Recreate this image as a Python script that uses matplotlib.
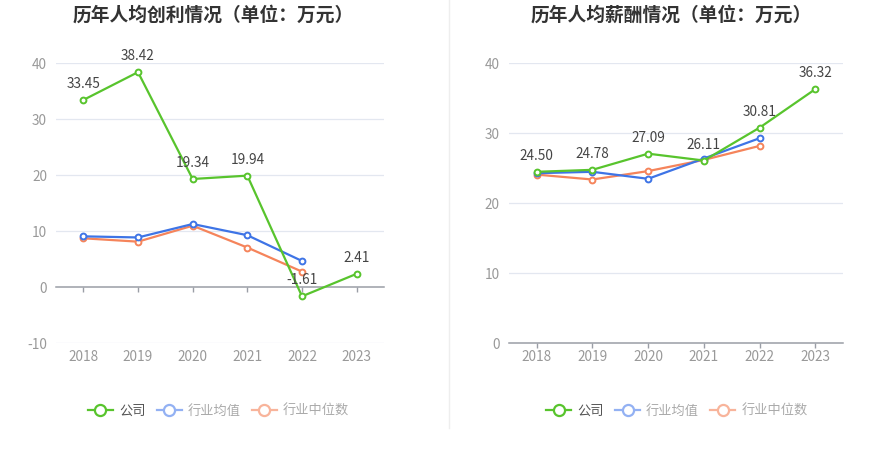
import matplotlib
matplotlib.use("Agg")
import matplotlib.pyplot as plt
from matplotlib.lines import Line2D

plt.rcParams['font.family'] = ['Noto Sans CJK SC', 'DejaVu Sans']
plt.rcParams['axes.unicode_minus'] = False

years = ['2018', '2019', '2020', '2021', '2022', '2023']

# 历年人均创利
profit_company = [33.45, 38.42, 19.34, 19.94, -1.61, 2.41]
profit_avg = [9.1, 8.9, 11.3, 9.3, 4.7]
profit_median = [8.75, 8.15, 11.0, 7.1, 2.8]

# 历年人均薪酬
salary_company = [24.50, 24.78, 27.09, 26.11, 30.81, 36.32]
salary_avg = [24.3, 24.5, 23.5, 26.4, 29.3]
salary_median = [24.1, 23.4, 24.6, 26.2, 28.2]

titles = ['历年人均创利情况（单位：万元）', '历年人均薪酬情况（单位：万元）']
legend_labels = ['公司', '行业均值', '行业中位数']

GREEN = '#58c42d'
BLUE = '#3e74e6'
ORANGE = '#f5845b'
GRID = '#e3e7f0'
AXIS = '#9a9ea6'
TICK = '#999999'
LABEL = '#444444'

fig = plt.figure(figsize=(8.93, 4.58), dpi=100)

def draw(ax, company, avg, median, ylim, yticks, zero_axis):
    x = list(range(len(years)))
    ax.set_xlim(-0.5, len(years) - 0.5)
    ax.set_ylim(*ylim)
    ax.set_yticks(yticks)
    for v in yticks:
        if v != 0:
            ax.axhline(v, color=GRID, lw=0.9, zorder=0)
    for s in ['top', 'right', 'left']:
        ax.spines[s].set_visible(False)
    ax.spines['bottom'].set_color(AXIS)
    ax.spines['bottom'].set_linewidth(1.1)
    ax.tick_params(axis='y', length=0, pad=6.5, labelsize=9.8, labelcolor=TICK)
    ax.set_xticks(x)
    if zero_axis:
        ax.spines['bottom'].set_position(('data', 0))
        ax.tick_params(axis='x', direction='out', length=3.5, width=1, color=AXIS,
                       labelbottom=False)
        sec = ax.secondary_xaxis('bottom')
        sec.set_xticks(x, years)
        sec.spines['bottom'].set_visible(False)
        sec.tick_params(axis='x', length=0, pad=5, labelsize=9.8, labelcolor=TICK)
    else:
        ax.set_xticklabels(years)
        ax.tick_params(axis='x', direction='out', length=3.5, width=1, color=AXIS,
                       pad=1.5, labelsize=9.8, labelcolor=TICK)
    kw = dict(lw=1.6, marker='o', ms=4.2, mfc='white', mew=1.4, zorder=3,
              solid_joinstyle='round')
    ax.plot(x[:len(median)], median, color=ORANGE, **kw)
    ax.plot(x[:len(avg)], avg, color=BLUE, **kw)
    ax.plot(x, company, color=GREEN, **kw)
    for xi, v in zip(x, company):
        ax.annotate(f'{v:.2f}', (xi, v), xytext=(0, 11.5), textcoords='offset points',
                    ha='center', va='center', fontsize=9.8, color=LABEL, zorder=5)

ax1 = fig.add_axes([56 / 893, 1 - 343.3 / 458, 328 / 893, 280 / 458])
draw(ax1, profit_company, profit_avg, profit_median, (-10, 40), [-10, 0, 10, 20, 30, 40], True)

ax2 = fig.add_axes([508.7 / 893, 1 - 343.3 / 458, 334.6 / 893, 280 / 458])
draw(ax2, salary_company, salary_avg, salary_median, (0, 40), [0, 10, 20, 30, 40], False)

fig.text(213 / 893, 1 - 15 / 458, titles[0], ha='center', va='center',
         fontsize=13.5, fontweight='bold', color='#333333')
fig.text(671.5 / 893, 1 - 15 / 458, titles[1], ha='center', va='center',
         fontsize=13.5, fontweight='bold', color='#333333')

# divider
fig.add_artist(Line2D([449 / 893, 449 / 893], [1 - 428 / 458, 1.0],
                      transform=fig.transFigure, color='#eeeeee', lw=1))

def legend(cx):
    hk = dict(lw=1.6, marker='o', ms=8, mfc='white', mew=1.6)
    handles = [Line2D([], [], color=GREEN, **hk),
               Line2D([], [], color='#93b1f3', **hk),
               Line2D([], [], color='#f8b49b', **hk)]
    leg = fig.legend(handles, legend_labels, loc='center', bbox_to_anchor=(cx / 893, 1 - 411 / 458),
                     ncol=3, frameon=False, fontsize=9.5, handlelength=1.9,
                     handletextpad=0.45, columnspacing=0.85)
    cols = ['#555555', '#aaaaaa', '#aaaaaa']
    for t, c in zip(leg.get_texts(), cols):
        t.set_color(c)

legend(218.5)
legend(677)

fig.savefig('out.png', dpi=100)
